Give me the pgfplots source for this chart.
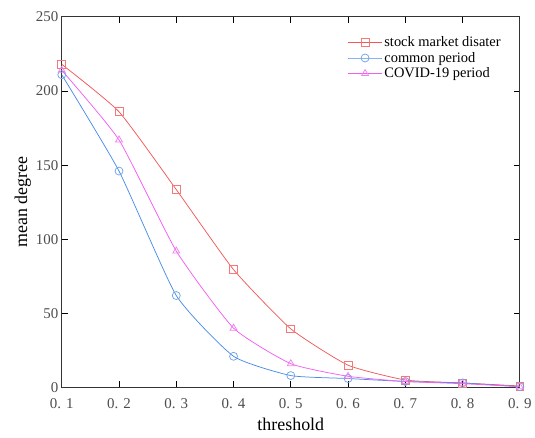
\documentclass[border=0pt]{standalone}
\usepackage{fontspec}
\setmainfont{Liberation Serif}
\usepackage{pgfplots}
\pgfplotsset{compat=1.18}
\definecolor{cred}{RGB}{242,88,88}
\definecolor{cblue}{RGB}{75,140,230}
\definecolor{cmag}{RGB}{240,95,240}
\begin{document}
\begin{tikzpicture}
\begin{axis}[
  scale only axis, width=460bp, height=372bp,
  xmin=0.1, xmax=0.9, ymin=0, ymax=250,
  xtick={0.1,0.2,0.3,0.4,0.5,0.6,0.7,0.8,0.9},
  xticklabels={0. 1,0. 2,0. 3,0. 4,0. 5,0. 6,0. 7,0. 8,0. 9},
  ytick={0,50,100,150,200,250},
  /pgf/number format/assume math mode=true,
  tick align=inside, tick style={black, line width=0.9pt}, major tick length=6bp,
  axis line style={line width=1.1pt, black!80},
  ticklabel style={font=\fontsize{15bp}{17bp}\selectfont, text=black!70},
  xticklabel style={yshift=-8bp},
  xlabel={threshold}, ylabel={mean degree},
  label style={font=\fontsize{18bp}{20bp}\selectfont},
  xlabel style={yshift=-2bp},
  ylabel style={yshift=-2bp},
  legend style={draw=none, fill=none, at={(0.965,0.955)}, anchor=north east, font=\fontsize{14.5bp}{16bp}\selectfont, row sep=0bp, inner sep=1pt},
  legend cell align=left,
  legend image code/.code={\draw[mark repeat=2,mark phase=2,#1] plot coordinates {(0bp,0bp) (17bp,0bp) (34bp,0bp)};},
  every axis plot/.append style={line width=0.75pt, mark size=4bp},
]
\addplot[cred, smooth, tension=0.3, mark=square, mark options={solid, fill=none, draw=cred!80!white}] coordinates {(0.1,218) (0.2,186) (0.3,133.5) (0.4,79.5) (0.5,39.5) (0.6,15) (0.7,5) (0.8,3) (0.9,1)};
\addlegendentry{stock market disater}
\addplot[cblue, smooth, tension=0.3, mark=o, mark options={solid, fill=none, draw=cblue!80!white}] coordinates {(0.1,211) (0.2,146) (0.3,62) (0.4,21) (0.5,8) (0.6,6) (0.7,4) (0.8,3) (0.9,0.5)};
\addlegendentry{common period}
\addplot[cmag, smooth, tension=0.3, mark=triangle, mark options={solid, fill=none, draw=cmag!80!white}] coordinates {(0.1,214) (0.2,167) (0.3,92) (0.4,40) (0.5,16) (0.6,7.5) (0.7,4) (0.8,2.5) (0.9,0.5)};
\addlegendentry{COVID-19 period}
\end{axis}
\path[use as bounding box] ([shift={(-62bp,-50bp)}]current axis.south west) rectangle ([shift={(13bp,17bp)}]current axis.north east);
\end{tikzpicture}
\end{document}
